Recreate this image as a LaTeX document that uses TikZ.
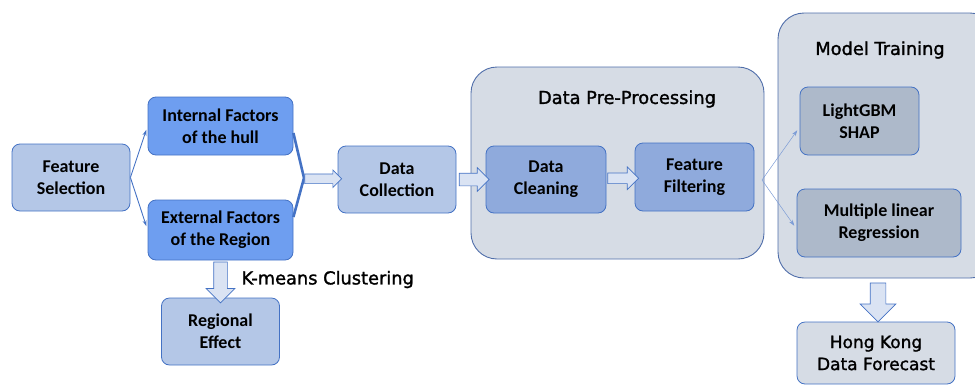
\documentclass[tikz,border=0pt]{standalone}
\usepackage{fontspec}
\setmainfont{Carlito}
\newfontfamily\headfont[FakeBold=1.5]{DejaVu Sans}
\usetikzlibrary{shapes.arrows, calc, arrows.meta}

\definecolor{lineblue}{RGB}{68,114,196}
\definecolor{frameblue}{RGB}{80,110,170}
\definecolor{paleblue}{RGB}{180,199,231}
\definecolor{brightblue}{RGB}{110,158,240}
\definecolor{midblue}{RGB}{143,170,220}
\definecolor{slateblue}{RGB}{173,185,202}
\definecolor{greyblue}{RGB}{214,220,229}
\definecolor{arrowfill}{RGB}{218,227,243}

\begin{document}
\begin{tikzpicture}[x=1pt,y=-1pt,
    box/.style={draw=lineblue, line width=0.8pt, rounded corners=8pt, align=center,
        minimum width=118pt, minimum height=67pt, inner sep=2pt,
        font=\bfseries\fontsize{18}{22}\selectfont},
    stage/.style={draw=frameblue, line width=0.9pt, fill=greyblue, rounded corners=26pt},
    title/.style={font=\headfont\fontsize{17.8}{21}\selectfont},
    fat/.style={single arrow, draw=lineblue, fill=arrowfill, line width=0.7pt,
        outer sep=0pt, single arrow tip angle=90},
    thin/.style={-{Stealth[length=6pt,width=4pt]}, lineblue, line width=0.9pt, shorten >=4pt},
    faint/.style={-{Stealth[length=6pt,width=4pt]}, lineblue!70, line width=0.5pt, shorten >=4pt}]

    \useasboundingbox (0,0) rectangle (975,386);

    % stage frames
    \node[stage, minimum width=293pt, minimum height=192pt] (pre) at (617.5,163) {};
    \node[stage, minimum width=218pt, minimum height=265pt] (train) at (887,145.5) {};
    \node[title] (pretitle) at (627,99) {Data Pre-Processing};
    \node[title] (traintitle) at (880,50) {Model Training};

    % boxes
    \node[box, fill=paleblue] (sel) at (71,177.5) {Feature\\Selection};
    \node[box, fill=brightblue, minimum width=145pt, minimum height=58pt] (int) at (220.5,126) {Internal Factors\\of the hull};
    \node[box, fill=brightblue, minimum width=145pt, minimum height=60pt] (ext) at (220.5,230) {External Factors\\of the Region};
    \node[box, fill=paleblue] (reg) at (220.5,331.5) {Regional\\Effect};
    \node[box, fill=paleblue] (coll) at (397,179.5) {Data\\Collection};
    \node[box, fill=midblue, minimum width=120pt] (clean) at (546,179.5) {Data\\Cleaning};
    \node[box, fill=midblue, minimum width=119pt, minimum height=68pt] (filt) at (694.5,177) {Feature\\Filtering};
    \node[box, fill=slateblue, minimum width=119pt, minimum height=68pt] (lgbm) at (859.5,121) {LightGBM\\SHAP};
    \node[box, fill=slateblue, minimum width=164pt, minimum height=68pt] (mlr) at (879,223) {Multiple linear\\Regression};
    \node[box, fill=greyblue, minimum width=158pt, minimum height=62pt, font=\headfont\fontsize{17}{22}\selectfont] (hk) at (876,353) {Hong Kong\\Data Forecast};

    \node[title, anchor=west] (kmeans) at (238,279.5) {K-means Clustering};

    % connectors
    \coordinate (join) at (304,178);
    \coordinate (split) at (762,180);

    \draw[thin] (sel.east) -- (int.west);
    \draw[thin] (sel.east) -- (ext.west);
    \draw[lineblue, line width=2.6pt] ([yshift=-7pt]int.east) -- (join) -- ([yshift=13pt]ext.east);
    \draw[faint] (split) -- ([yshift=-6pt]lgbm.west);
    \draw[faint] (split) -- ([yshift=-6pt]mlr.west);

    % block arrows
    \node[fat, minimum height=37pt, inner sep=4.5pt, single arrow head extend=4pt] (a1)
        at ($(join)!0.5!(coll.west)$) {};
    \node[fat, minimum height=30pt, inner sep=6pt, single arrow head extend=5.5pt] (a2)
        at ($(coll.east)!0.5!(clean.west)$) {};
    \node[fat, minimum height=31pt, inner sep=5pt, single arrow head extend=6pt] (a3)
        at ($(clean.east)!0.5!(filt.west)$) {};
    \node[fat, shape border rotate=270, minimum height=41pt, inner sep=6.5pt, single arrow head extend=7.5pt] (a4)
        at ($(ext.south)!0.5!(reg.north)$) {};
    \node[fat, shape border rotate=270, minimum height=39pt, inner sep=7.5pt, single arrow head extend=10pt] (a5)
        at (878,298.5) {};
\end{tikzpicture}
\end{document}
